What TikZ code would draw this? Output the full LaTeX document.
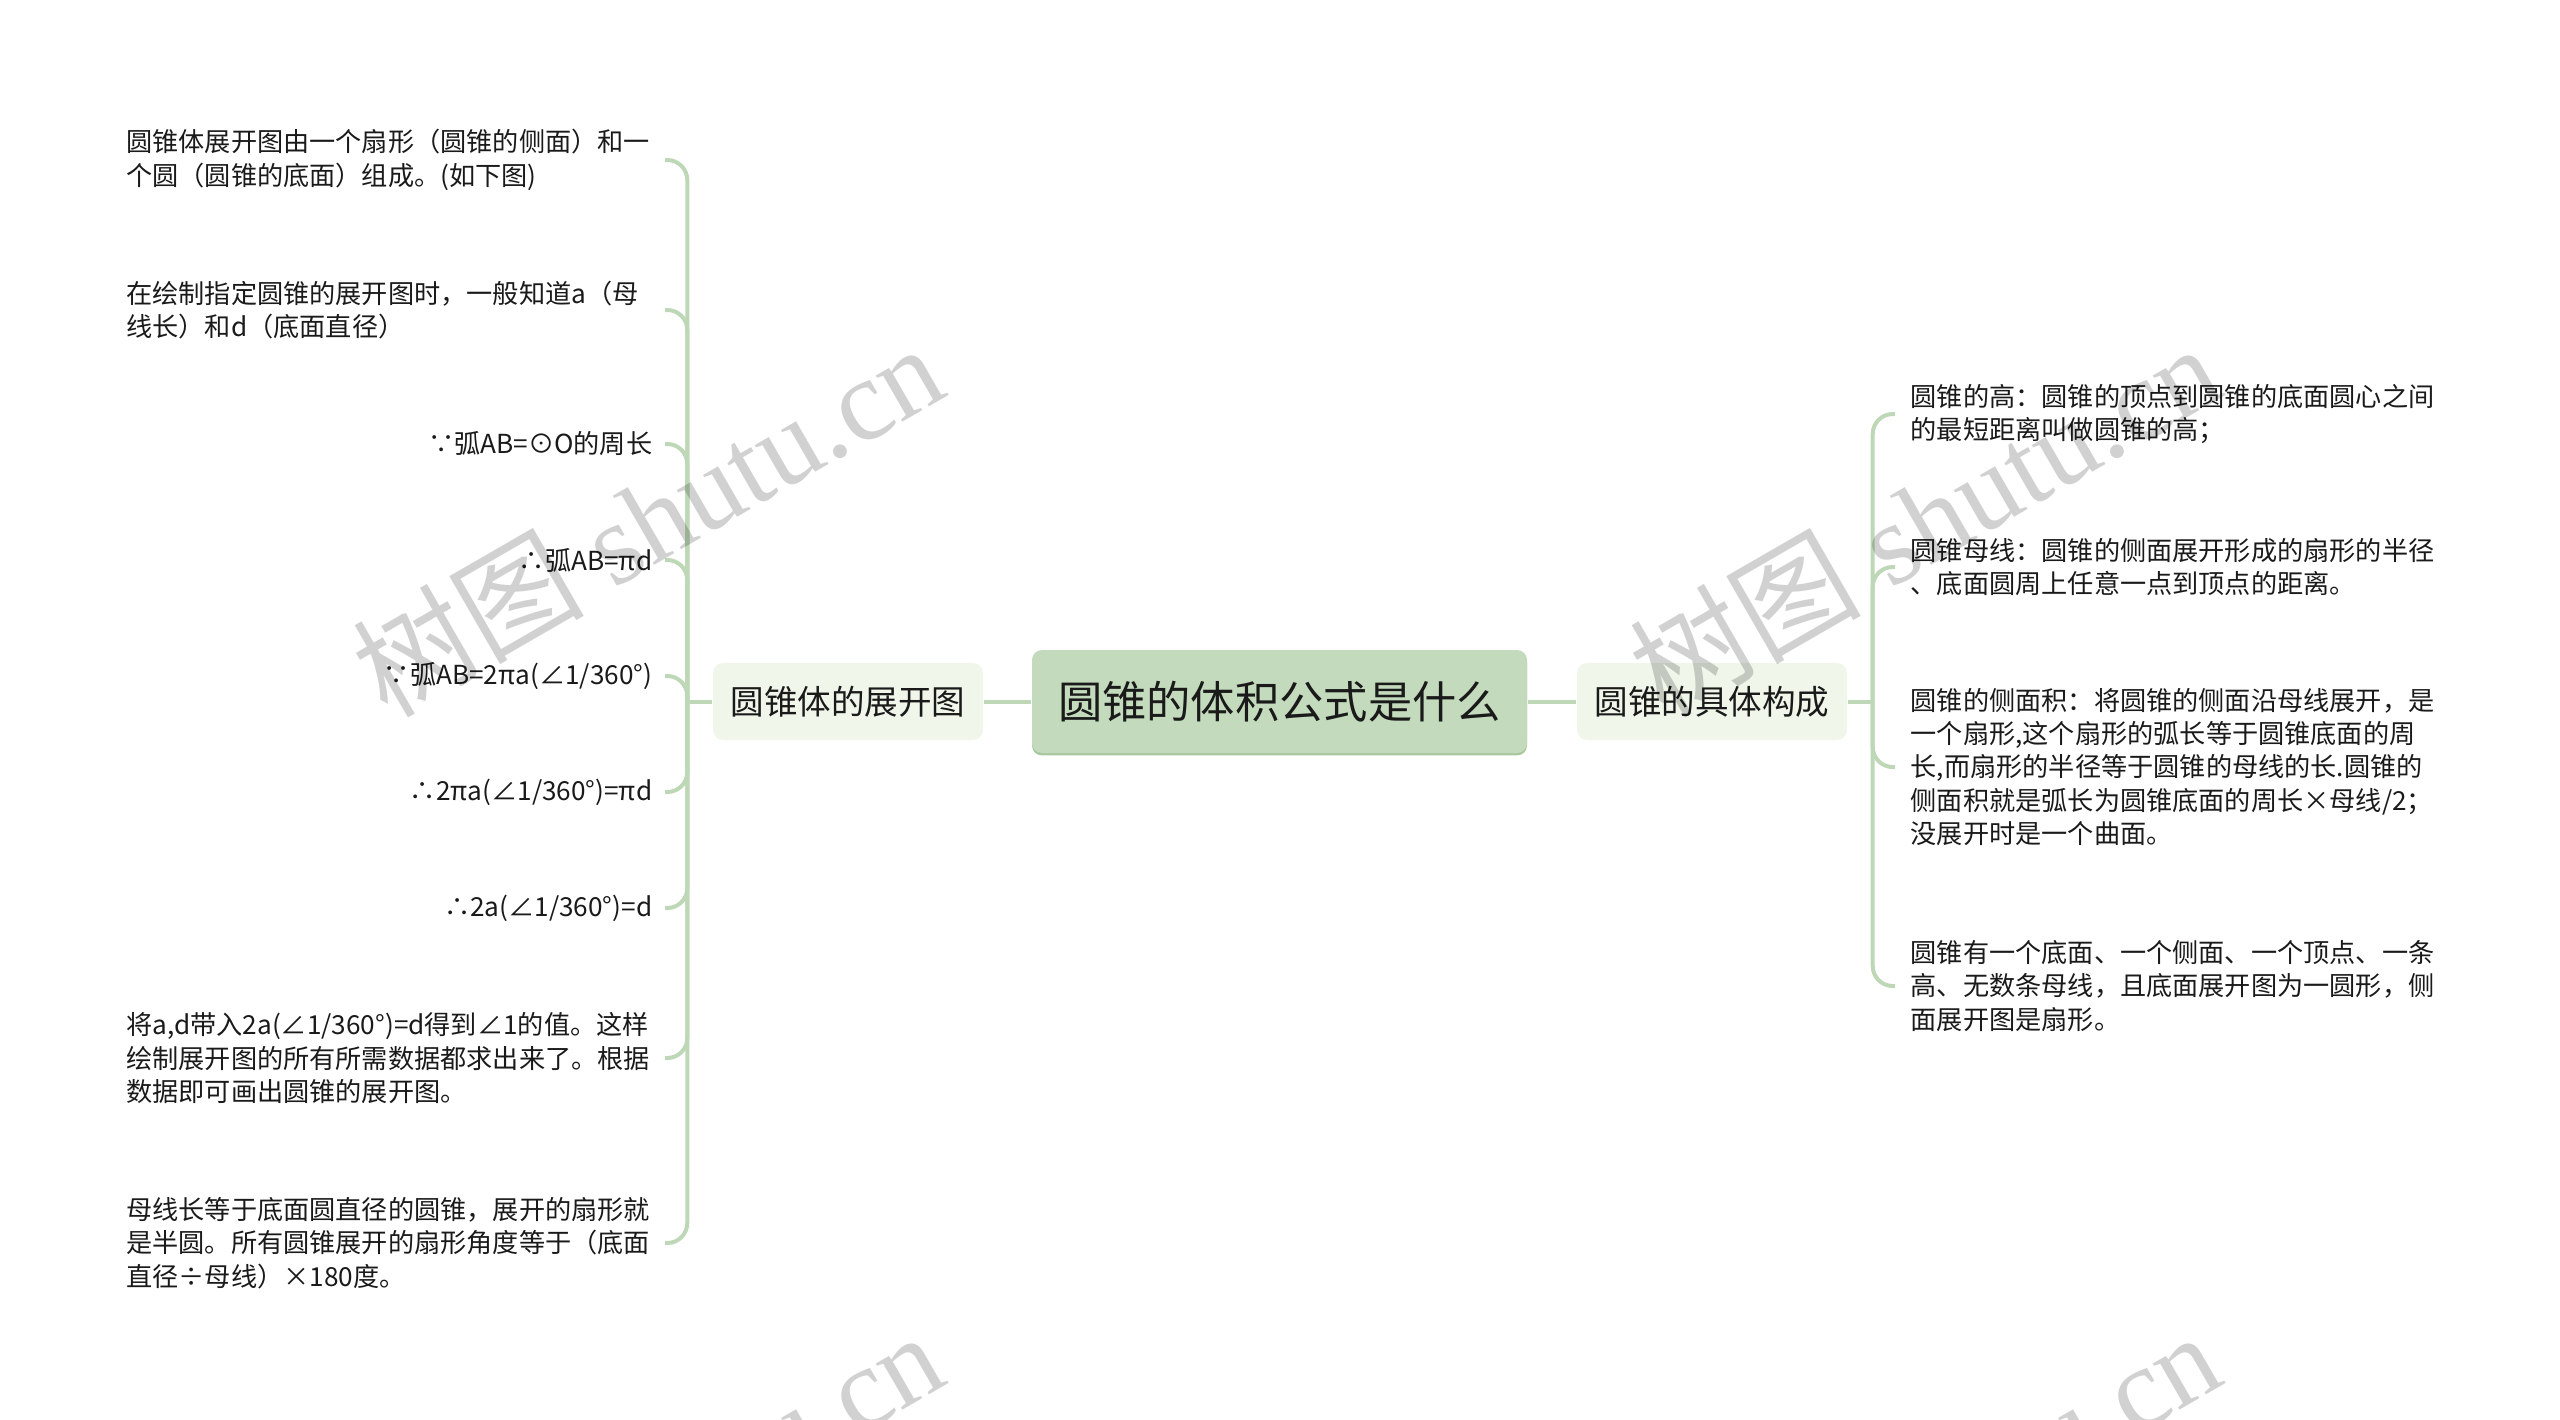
\documentclass[tikz,border=0pt]{standalone}
\usepackage{fontspec}
\newfontfamily\cjk{Noto Sans CJK SC}
\newfontfamily\wmfont{Liberation Serif}
\definecolor{rootgreen}{HTML}{C3DBBC}
\definecolor{rootshade}{HTML}{A8C79F}
\definecolor{subgreen}{HTML}{F0F6EA}
\definecolor{linegreen}{HTML}{BED8B7}
\definecolor{inkgray}{HTML}{1A1A1A}

\begin{document}
\begin{tikzpicture}
        \useasboundingbox (0,0) rectangle (25.6,-14.19);
        \begin{scope}[every node/.style={text=inkgray, font=\cjk\fontsize{7.45}{9.5}\selectfont}]
                \node[fill=rootgreen, rounded corners=0.1cm, minimum width=4.95cm, minimum height=1.03cm,
                        preaction={fill=rootshade, transform canvas={yshift=-0.7pt}},
                        font=\cjk\fontsize{12.6}{15}\selectfont] (C) at (12.795,-7.015) {圆锥的体积公式是什么};
                \node[fill=subgreen, rounded corners=0.1cm, minimum width=2.7cm, minimum height=0.77cm,
                        font=\cjk\fontsize{9.55}{12}\selectfont] (B1) at (8.48,-7.015) {圆锥体的展开图};
                \node[fill=subgreen, rounded corners=0.1cm, minimum width=2.7cm, minimum height=0.77cm,
                        font=\cjk\fontsize{9.55}{12}\selectfont] (B2) at (17.12,-7.015) {圆锥的具体构成};
        \end{scope}
        \begin{scope}[every node/.style={anchor=east, inner xsep=0.12cm, inner ysep=0, text=inkgray,
                        font=\cjk\fontsize{7.45}{9.5}\selectfont}]
                \node[text width=5.26cm, align=left] (L1) at (6.65,-1.6) {圆锥体展开图由一个扇形（圆锥的侧面）和一\\个圆（圆锥的底面）组成。(如下图)};
                \node[text width=5.26cm, align=left] (L2) at (6.65,-3.1) {在绘制指定圆锥的展开图时，一般知道a（母\\线长）和d（底面直径）};
                \node (L3) at (6.65,-4.44) {∵弧AB=⊙O的周长};
                \node (L4) at (6.65,-5.6) {∴弧AB=πd};
                \node (L5) at (6.65,-6.76) {∵弧AB=2πa(∠1/360°)};
                \node (L6) at (6.65,-7.92) {∴2πa(∠1/360°)=πd};
                \node (L7) at (6.65,-9.08) {∴2a(∠1/360°)=d};
                \node[text width=5.26cm, align=left] (L8) at (6.65,-10.58) {将a,d带入2a(∠1/360°)=d得到∠1的值。这样\\绘制展开图的所有所需数据都求出来了。根据\\数据即可画出圆锥的展开图。};
                \node[text width=5.26cm, align=left] (L9) at (6.65,-12.43) {母线长等于底面圆直径的圆锥，展开的扇形就\\是半圆。所有圆锥展开的扇形角度等于（底面\\直径÷母线）×180度。};
        \end{scope}
        \begin{scope}[every node/.style={anchor=west, inner xsep=0.15cm, inner ysep=0, align=left, text=inkgray,
                        font=\cjk\fontsize{7.45}{9.5}\selectfont}]
                \node (R1) at (18.95,-4.14) {圆锥的高：圆锥的顶点到圆锥的底面圆心之间\\的最短距离叫做圆锥的高；};
                \node (R2) at (18.95,-5.67) {圆锥母线：圆锥的侧面展开形成的扇形的半径\\、底面圆周上任意一点到顶点的距离。};
                \node (R3) at (18.95,-7.67) {圆锥的侧面积：将圆锥的侧面沿母线展开，是\\一个扇形,这个扇形的弧长等于圆锥底面的周\\长,而扇形的半径等于圆锥的母线的长.圆锥的\\侧面积就是弧长为圆锥底面的周长×母线/2；\\没展开时是一个曲面。};
                \node (R4) at (18.95,-9.86) {圆锥有一个底面、一个侧面、一个顶点、一条\\高、无数条母线，且底面展开图为一圆形，侧\\面展开图是扇形。};
        \end{scope}
        \begin{scope}[every path/.style={draw=linegreen, line width=0.04cm, rounded corners=0.2cm}]
                \path (C.west) -- (B1.east);
                \path (C.east) -- (B2.west);
                \path (B1.west) -- ++(-0.25,0) coordinate (T1);
                \path (B2.east) -- ++(0.25,0) coordinate (T2);
                \foreach \n in {1,...,9}
                        \path (T1) |- (L\n.east);
                \foreach \n in {1,...,4}
                        \path (T2) |- (R\n.west);
        \end{scope}
        % watermarks
        \begin{scope}[every node/.style={rotate=30, text=black, text opacity=0.18, font=\wmfont\fontsize{33}{36}\selectfont}]
                \node (W1) at (6.47,-5.19) {{\cjk 树图} shutu.cn};
                \node (W2) at (19.24,-5.19) {{\cjk 树图} shutu.cn};
                \node (W3) at (6.47,-15.07) {{\cjk 树图} shutu.cn};
                \node (W4) at (19.24,-15.07) {{\cjk 树图} shutu.cn};
        \end{scope}
\end{tikzpicture}
\end{document}
